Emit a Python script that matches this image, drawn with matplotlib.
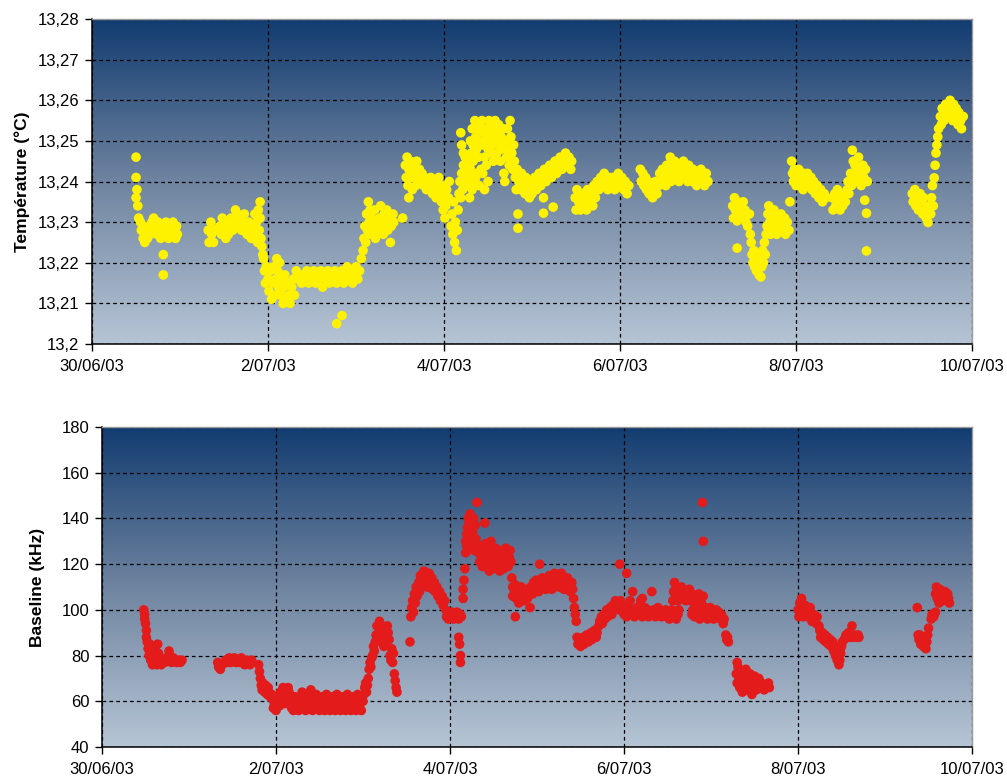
import matplotlib
matplotlib.use("Agg")
import matplotlib.pyplot as plt
import numpy as np
from matplotlib.colors import LinearSegmentedColormap
from matplotlib.ticker import FuncFormatter

plt.rcParams['font.family'] = ['Liberation Sans', 'DejaVu Sans']

# x = days since 30/06/03 00:00
date_ticks = [0, 2, 4, 6, 8, 10]
date_labels = ['30/06/03', '2/07/03', '4/07/03', '6/07/03', '8/07/03', '10/07/03']

# --- temperature (°C), one list per group of points
temp_a = [(0.50, 13.246), (0.50, 13.241), (0.51, 13.238), (0.50, 13.236), (0.52, 13.234), (0.53, 13.231),
          (0.55, 13.230), (0.56, 13.228), (0.58, 13.229), (0.58, 13.226), (0.60, 13.227), (0.60, 13.225),
          (0.62, 13.228), (0.63, 13.226), (0.65, 13.229), (0.66, 13.227), (0.68, 13.230), (0.70, 13.228),
          (0.70, 13.231), (0.72, 13.229), (0.74, 13.227), (0.75, 13.230), (0.77, 13.228), (0.78, 13.226),
          (0.80, 13.229), (0.81, 13.222), (0.81, 13.217), (0.82, 13.227), (0.84, 13.230), (0.85, 13.228),
          (0.87, 13.226), (0.88, 13.229), (0.90, 13.227), (0.92, 13.230), (0.93, 13.228), (0.95, 13.226),
          (0.96, 13.229), (0.97, 13.227)]
temp_b = [(1.32, 13.228), (1.33, 13.225), (1.35, 13.230), (1.36, 13.227), (1.38, 13.225), (1.40, 13.228),
          (1.45, 13.229), (1.47, 13.227), (1.48, 13.231), (1.50, 13.228), (1.52, 13.226), (1.54, 13.230),
          (1.55, 13.227), (1.57, 13.229), (1.58, 13.231), (1.60, 13.228), (1.62, 13.230), (1.63, 13.233),
          (1.65, 13.232), (1.66, 13.229), (1.68, 13.231), (1.70, 13.228), (1.71, 13.230), (1.73, 13.232),
          (1.75, 13.229), (1.76, 13.227), (1.78, 13.230), (1.80, 13.228), (1.81, 13.226), (1.83, 13.229),
          (1.85, 13.232), (1.86, 13.227), (1.87, 13.230), (1.88, 13.225), (1.89, 13.233), (1.90, 13.228),
          (1.91, 13.235), (1.91, 13.231), (1.92, 13.226), (1.93, 13.224), (1.94, 13.222)]
temp_c = [(1.95, 13.221), (1.96, 13.218), (1.97, 13.215), (1.98, 13.219), (2.00, 13.216), (2.01, 13.213),
          (2.02, 13.218), (2.04, 13.211), (2.05, 13.215), (2.06, 13.219), (2.08, 13.212), (2.09, 13.216),
          (2.10, 13.221), (2.11, 13.218), (2.12, 13.214), (2.13, 13.220), (2.14, 13.216), (2.15, 13.212),
          (2.17, 13.210), (2.18, 13.214), (2.19, 13.217), (2.21, 13.211), (2.22, 13.215), (2.24, 13.212),
          (2.25, 13.210), (2.27, 13.214), (2.29, 13.216), (2.30, 13.212), (2.32, 13.218), (2.34, 13.216),
          (2.36, 13.217), (2.38, 13.215), (2.40, 13.217), (2.42, 13.216), (2.44, 13.218), (2.46, 13.215),
          (2.48, 13.217), (2.50, 13.216), (2.52, 13.218), (2.54, 13.215), (2.56, 13.217), (2.58, 13.216),
          (2.60, 13.218), (2.62, 13.214), (2.64, 13.217), (2.66, 13.216), (2.68, 13.218), (2.70, 13.215),
          (2.72, 13.217), (2.74, 13.216), (2.76, 13.218), (2.78, 13.205), (2.84, 13.207), (2.78, 13.215),
          (2.80, 13.217), (2.82, 13.216), (2.84, 13.218), (2.86, 13.215), (2.88, 13.217), (2.90, 13.219),
          (2.92, 13.216), (2.94, 13.218), (2.96, 13.215), (2.98, 13.217), (3.00, 13.219), (3.02, 13.216),
          (3.04, 13.218)]
temp_d = [(3.06, 13.221), (3.08, 13.223), (3.09, 13.226), (3.10, 13.229), (3.11, 13.225), (3.12, 13.232),
          (3.13, 13.228), (3.14, 13.235), (3.15, 13.230), (3.16, 13.233), (3.17, 13.227), (3.18, 13.231),
          (3.20, 13.229), (3.21, 13.233), (3.22, 13.226), (3.24, 13.230), (3.25, 13.228), (3.27, 13.231),
          (3.28, 13.234), (3.29, 13.229), (3.31, 13.227), (3.32, 13.232), (3.34, 13.230), (3.35, 13.233),
          (3.36, 13.228), (3.38, 13.231), (3.39, 13.225), (3.40, 13.229), (3.42, 13.232), (3.43, 13.230),
          (3.53, 13.231)]
temp_e = [(3.56, 13.244), (3.57, 13.241), (3.58, 13.246), (3.59, 13.239), (3.60, 13.236), (3.60, 13.243),
          (3.62, 13.245), (3.63, 13.241), (3.64, 13.238), (3.65, 13.244), (3.67, 13.242), (3.68, 13.239),
          (3.69, 13.245), (3.71, 13.241), (3.72, 13.243), (3.74, 13.240), (3.75, 13.242), (3.77, 13.239),
          (3.78, 13.241), (3.80, 13.238), (3.82, 13.240), (3.84, 13.238), (3.85, 13.241), (3.87, 13.237),
          (3.88, 13.240), (3.90, 13.238), (3.91, 13.236), (3.93, 13.239), (3.94, 13.241), (3.96, 13.237),
          (3.97, 13.235), (3.98, 13.239)]
temp_f = [(3.99, 13.233), (4.00, 13.236), (4.01, 13.231), (4.02, 13.234), (4.03, 13.238), (4.05, 13.236),
          (4.06, 13.240), (4.08, 13.229), (4.09, 13.232), (4.10, 13.227), (4.11, 13.235), (4.12, 13.225),
          (4.13, 13.230), (4.14, 13.223), (4.15, 13.228), (4.16, 13.233), (4.17, 13.237), (4.18, 13.240),
          (4.19, 13.236), (4.20, 13.242), (4.21, 13.238), (4.22, 13.244), (4.23, 13.240), (4.24, 13.246),
          (4.25, 13.242), (4.26, 13.239), (4.27, 13.244), (4.28, 13.241), (4.29, 13.236), (4.30, 13.243),
          (4.31, 13.240), (4.32, 13.238), (4.33, 13.245), (4.34, 13.242), (4.35, 13.240), (4.19, 13.252),
          (4.20, 13.249), (4.22, 13.247)]
temp_g = [(4.30, 13.250), (4.31, 13.247), (4.32, 13.253), (4.33, 13.249), (4.35, 13.255), (4.36, 13.251),
          (4.37, 13.248), (4.38, 13.253), (4.39, 13.246), (4.40, 13.250), (4.41, 13.254), (4.42, 13.243),
          (4.43, 13.255), (4.44, 13.249), (4.45, 13.252), (4.46, 13.246), (4.47, 13.250), (4.48, 13.244),
          (4.49, 13.253), (4.50, 13.248), (4.51, 13.255), (4.52, 13.251), (4.53, 13.247), (4.54, 13.253),
          (4.55, 13.249), (4.56, 13.245), (4.57, 13.252), (4.58, 13.255), (4.59, 13.250), (4.60, 13.247),
          (4.61, 13.252), (4.62, 13.254), (4.63, 13.249), (4.64, 13.245), (4.65, 13.251), (4.66, 13.248),
          (4.67, 13.253), (4.68, 13.242), (4.69, 13.240), (4.70, 13.250), (4.71, 13.246), (4.72, 13.253),
          (4.73, 13.248), (4.74, 13.244), (4.75, 13.255), (4.76, 13.251), (4.77, 13.247), (4.78, 13.243),
          (4.79, 13.249), (4.80, 13.245), (4.36, 13.241), (4.40, 13.239), (4.44, 13.242), (4.46, 13.238),
          (4.50, 13.240)]
temp_h = [(4.81, 13.241), (4.82, 13.238), (4.83, 13.243), (4.84, 13.232), (4.84, 13.2285), (4.85, 13.240),
          (4.87, 13.238), (4.88, 13.242), (4.90, 13.239), (4.92, 13.237), (4.93, 13.241), (4.95, 13.238),
          (4.97, 13.236), (4.98, 13.240), (5.00, 13.237), (5.02, 13.239), (5.03, 13.241), (5.05, 13.238),
          (5.07, 13.240), (5.08, 13.242), (5.10, 13.239), (5.12, 13.241), (5.13, 13.2322), (5.13, 13.236),
          (5.14, 13.243), (5.16, 13.240), (5.18, 13.242), (5.20, 13.244), (5.22, 13.241), (5.24, 13.2337),
          (5.24, 13.243), (5.26, 13.245), (5.28, 13.242), (5.30, 13.244), (5.32, 13.246), (5.34, 13.243),
          (5.36, 13.245), (5.38, 13.247), (5.40, 13.244), (5.42, 13.246), (5.44, 13.243), (5.45, 13.245)]
temp_i = [(5.49, 13.236), (5.50, 13.233), (5.51, 13.238), (5.53, 13.235), (5.55, 13.233), (5.56, 13.237),
          (5.58, 13.234), (5.60, 13.236), (5.62, 13.233), (5.63, 13.238), (5.65, 13.235), (5.67, 13.237),
          (5.69, 13.234), (5.70, 13.239), (5.72, 13.236), (5.74, 13.240), (5.76, 13.238), (5.78, 13.241),
          (5.80, 13.239), (5.82, 13.242), (5.84, 13.240), (5.86, 13.238), (5.88, 13.241), (5.90, 13.239),
          (5.92, 13.241), (5.94, 13.238), (5.96, 13.240), (5.98, 13.242), (6.00, 13.239), (6.02, 13.241),
          (6.04, 13.238), (6.06, 13.240), (6.08, 13.237), (6.10, 13.239)]
temp_j = [(6.23, 13.243), (6.24, 13.240), (6.26, 13.242), (6.27, 13.239), (6.29, 13.241), (6.30, 13.238),
          (6.32, 13.240), (6.33, 13.237), (6.35, 13.239), (6.37, 13.236), (6.38, 13.238), (6.40, 13.240),
          (6.42, 13.237), (6.44, 13.239), (6.45, 13.242), (6.47, 13.240), (6.48, 13.243), (6.50, 13.241),
          (6.52, 13.239), (6.53, 13.244), (6.55, 13.242), (6.57, 13.246), (6.58, 13.240), (6.60, 13.243),
          (6.62, 13.245), (6.63, 13.241), (6.65, 13.243), (6.67, 13.240), (6.68, 13.244), (6.70, 13.242),
          (6.72, 13.245), (6.73, 13.241), (6.75, 13.243), (6.77, 13.240), (6.78, 13.244), (6.80, 13.242),
          (6.82, 13.240), (6.83, 13.243), (6.85, 13.241), (6.87, 13.239), (6.88, 13.242), (6.90, 13.240),
          (6.92, 13.243), (6.94, 13.241), (6.96, 13.239), (6.98, 13.242), (7.00, 13.240)]
temp_k = [(7.28, 13.234), (7.29, 13.231), (7.30, 13.236), (7.31, 13.233), (7.33, 13.2303), (7.33, 13.2236),
          (7.34, 13.235), (7.36, 13.232), (7.37, 13.234), (7.39, 13.231), (7.40, 13.235), (7.42, 13.233),
          (7.43, 13.230), (7.45, 13.229), (7.47, 13.232), (7.48, 13.227), (7.49, 13.225), (7.50, 13.222),
          (7.51, 13.220), (7.52, 13.223), (7.53, 13.219), (7.54, 13.221), (7.55, 13.218), (7.56, 13.222),
          (7.57, 13.220), (7.58, 13.217), (7.59, 13.221), (7.60, 13.2165), (7.61, 13.219), (7.62, 13.223),
          (7.63, 13.220), (7.64, 13.225), (7.65, 13.222), (7.66, 13.227), (7.67, 13.229), (7.68, 13.232)]
temp_l = [(7.69, 13.234), (7.70, 13.230), (7.71, 13.227), (7.72, 13.232), (7.74, 13.229), (7.75, 13.233),
          (7.77, 13.231), (7.78, 13.227), (7.80, 13.230), (7.82, 13.228), (7.83, 13.232), (7.85, 13.229),
          (7.87, 13.231), (7.88, 13.227), (7.90, 13.230), (7.92, 13.228), (7.93, 13.235)]
temp_m = [(7.95, 13.245), (7.96, 13.242), (7.97, 13.240), (7.98, 13.243), (8.00, 13.239), (8.01, 13.241),
          (8.03, 13.243), (8.04, 13.239), (8.06, 13.241), (8.08, 13.238), (8.09, 13.242), (8.11, 13.240),
          (8.13, 13.242), (8.15, 13.239), (8.17, 13.241), (8.18, 13.238), (8.20, 13.240), (8.22, 13.237),
          (8.24, 13.239), (8.26, 13.236), (8.28, 13.238), (8.30, 13.235), (8.32, 13.237), (8.34, 13.236)]
temp_n = [(8.41, 13.236), (8.42, 13.233), (8.44, 13.237), (8.45, 13.234), (8.47, 13.238), (8.48, 13.235),
          (8.50, 13.233), (8.51, 13.236), (8.53, 13.234), (8.55, 13.237), (8.56, 13.235), (8.58, 13.238),
          (8.59, 13.240), (8.60, 13.237), (8.62, 13.242), (8.63, 13.239), (8.64, 13.2477), (8.65, 13.245),
          (8.66, 13.241), (8.67, 13.244), (8.69, 13.240), (8.70, 13.243), (8.71, 13.246), (8.73, 13.242),
          (8.74, 13.239), (8.76, 13.244), (8.77, 13.241), (8.78, 13.2354), (8.79, 13.243), (8.80, 13.2322),
          (8.80, 13.2229), (8.81, 13.240)]
temp_o = [(9.32, 13.237), (9.33, 13.235), (9.35, 13.238), (9.36, 13.234), (9.38, 13.236), (9.39, 13.233),
          (9.41, 13.237), (9.42, 13.235), (9.44, 13.232), (9.45, 13.236), (9.47, 13.233), (9.48, 13.231),
          (9.50, 13.2299), (9.51, 13.234), (9.53, 13.232), (9.54, 13.236), (9.55, 13.239), (9.56, 13.234),
          (9.57, 13.2409), (9.58, 13.244), (9.59, 13.247), (9.60, 13.249), (9.61, 13.251)]
temp_p = [(9.62, 13.253), (9.64, 13.256), (9.65, 13.254), (9.66, 13.258), (9.68, 13.255), (9.69, 13.257),
          (9.70, 13.259), (9.72, 13.256), (9.73, 13.258), (9.75, 13.260), (9.76, 13.257), (9.78, 13.255),
          (9.79, 13.259), (9.81, 13.256), (9.82, 13.258), (9.84, 13.254), (9.85, 13.257), (9.87, 13.255),
          (9.88, 13.253), (9.90, 13.256)]

# --- baseline (kHz)
base_a = [(0.48, 100), (0.49, 98), (0.49, 96), (0.50, 94), (0.51, 91), (0.51, 88), (0.52, 86), (0.53, 83),
          (0.54, 80), (0.55, 85), (0.56, 78), (0.57, 82), (0.58, 76), (0.59, 80), (0.60, 77), (0.61, 84),
          (0.62, 79), (0.63, 76), (0.64, 85), (0.65, 81), (0.66, 77), (0.67, 79), (0.68, 76), (0.70, 78),
          (0.72, 77), (0.74, 79), (0.76, 78), (0.77, 82), (0.78, 80), (0.80, 77), (0.82, 79), (0.84, 78),
          (0.86, 77), (0.88, 78), (0.90, 77), (0.92, 78)]
base_b = [(1.33, 77), (1.34, 75), (1.36, 74), (1.38, 76), (1.42, 78), (1.44, 77), (1.46, 79), (1.48, 77),
          (1.50, 78), (1.52, 79), (1.54, 77), (1.56, 78), (1.58, 77), (1.60, 79), (1.62, 77), (1.64, 76),
          (1.66, 78), (1.68, 77), (1.70, 76), (1.72, 78), (1.80, 76), (1.81, 73), (1.82, 70), (1.83, 67),
          (1.84, 65), (1.85, 68), (1.86, 66), (1.87, 64), (1.88, 67), (1.89, 65), (1.90, 63), (1.91, 66),
          (1.92, 64), (1.93, 62), (1.95, 63), (1.96, 61)]
base_c = [(1.97, 57), (1.98, 59), (2.00, 56), (2.01, 60), (2.03, 62), (2.04, 58), (2.05, 64), (2.06, 61),
          (2.08, 66), (2.09, 63), (2.10, 59), (2.11, 65), (2.12, 62), (2.14, 66), (2.15, 64), (2.16, 60),
          (2.18, 57), (2.20, 56), (2.21, 59), (2.22, 62), (2.24, 57), (2.25, 60), (2.26, 56), (2.28, 58),
          (2.29, 61), (2.30, 64), (2.32, 57), (2.33, 60), (2.34, 56), (2.36, 59), (2.37, 62), (2.38, 57),
          (2.40, 65), (2.41, 60), (2.42, 56), (2.44, 58), (2.45, 61), (2.46, 63), (2.48, 57), (2.49, 59),
          (2.50, 56), (2.52, 60), (2.53, 62), (2.54, 58), (2.56, 56), (2.57, 61), (2.58, 63), (2.60, 57),
          (2.61, 59), (2.62, 56), (2.64, 60), (2.65, 62), (2.66, 58), (2.68, 56), (2.69, 61), (2.70, 63),
          (2.72, 57), (2.73, 59), (2.74, 56), (2.76, 60), (2.77, 62), (2.78, 58), (2.80, 56), (2.81, 61),
          (2.82, 63), (2.84, 57), (2.85, 59), (2.86, 56), (2.88, 60), (2.89, 62), (2.90, 58), (2.92, 56),
          (2.93, 61), (2.94, 63), (2.96, 57), (2.97, 59), (2.98, 56), (3.00, 60)]
base_d = [(3.01, 63), (3.02, 66), (3.03, 68), (3.04, 64), (3.05, 67), (3.06, 70), (3.07, 74), (3.08, 77),
          (3.09, 75), (3.10, 79), (3.11, 80), (3.12, 84), (3.13, 82), (3.14, 86), (3.15, 89), (3.16, 93),
          (3.17, 87), (3.18, 90), (3.19, 95), (3.20, 88), (3.21, 86), (3.22, 91), (3.23, 89), (3.24, 84),
          (3.25, 92), (3.26, 88), (3.27, 86), (3.28, 93), (3.29, 90), (3.30, 87), (3.31, 80), (3.32, 78),
          (3.33, 83), (3.34, 77), (3.35, 81), (3.36, 72), (3.37, 69), (3.38, 66), (3.39, 64), (3.54, 86)]
base_e = [(3.55, 97), (3.56, 101), (3.57, 104), (3.58, 99), (3.59, 107), (3.60, 103), (3.61, 110), (3.62, 106),
          (3.64, 112), (3.65, 108), (3.66, 115), (3.68, 111), (3.69, 114), (3.70, 117), (3.71, 112), (3.72, 115),
          (3.74, 110), (3.75, 113), (3.76, 116), (3.78, 111), (3.79, 114), (3.80, 109), (3.82, 112), (3.83, 108),
          (3.85, 110), (3.86, 106), (3.88, 108), (3.89, 104), (3.91, 106), (3.92, 102), (3.94, 104), (3.95, 100),
          (3.96, 97), (3.98, 96), (3.99, 98), (4.01, 97), (4.02, 99), (4.04, 96), (4.05, 98), (4.07, 97),
          (4.08, 99), (4.10, 96), (4.12, 98), (4.13, 97), (4.10, 88), (4.11, 85), (4.12, 80), (4.12, 77)]
base_f = [(4.15, 105), (4.15, 109), (4.16, 113), (4.17, 118), (4.18, 125), (4.18, 130), (4.19, 133), (4.19, 128),
          (4.20, 136), (4.21, 140), (4.21, 133), (4.22, 138), (4.23, 131), (4.23, 142), (4.24, 137), (4.25, 129),
          (4.26, 134), (4.27, 140), (4.28, 126), (4.29, 137), (4.30, 131), (4.31, 147), (4.32, 128)]
base_g = [(4.33, 125), (4.34, 121), (4.35, 128), (4.36, 123), (4.37, 119), (4.38, 126), (4.39, 122), (4.40, 138),
          (4.41, 129), (4.42, 124), (4.43, 120), (4.44, 127), (4.45, 117), (4.46, 123), (4.47, 130), (4.48, 121),
          (4.49, 118), (4.50, 125), (4.51, 122), (4.52, 127), (4.53, 119), (4.54, 124), (4.55, 121), (4.56, 126),
          (4.57, 117), (4.58, 123), (4.59, 120), (4.60, 126), (4.61, 122), (4.62, 118), (4.63, 124), (4.64, 127),
          (4.65, 121), (4.66, 125), (4.67, 119), (4.68, 123), (4.69, 126), (4.70, 121), (4.71, 114), (4.72, 110),
          (4.72, 106), (4.75, 97)]
base_h = [(4.74, 108), (4.75, 111), (4.76, 105), (4.77, 109), (4.78, 106), (4.79, 103), (4.80, 107), (4.82, 110),
          (4.83, 105), (4.84, 108), (4.85, 104), (4.86, 106), (4.88, 109), (4.89, 105), (4.90, 108), (4.92, 101),
          (4.93, 110), (4.95, 107), (4.96, 112), (4.98, 109), (4.99, 113), (5.00, 110), (5.02, 108), (5.03, 112),
          (5.03, 120), (5.05, 110), (5.06, 114), (5.08, 111), (5.10, 109), (5.11, 113), (5.13, 110), (5.14, 115),
          (5.16, 112), (5.17, 109), (5.19, 113), (5.20, 116), (5.22, 111), (5.23, 114), (5.25, 110), (5.26, 113),
          (5.28, 116), (5.29, 112), (5.31, 109), (5.32, 113), (5.34, 110), (5.35, 114), (5.37, 111), (5.38, 108),
          (5.40, 112), (5.41, 109), (5.42, 105), (5.43, 101), (5.44, 98), (5.45, 95)]
base_i = [(5.46, 88), (5.47, 85), (5.48, 87), (5.50, 84), (5.51, 86), (5.53, 88), (5.54, 85), (5.56, 87),
          (5.57, 89), (5.59, 86), (5.60, 88), (5.62, 90), (5.63, 87), (5.65, 89), (5.66, 91), (5.68, 88),
          (5.69, 90), (5.71, 93), (5.72, 95), (5.74, 97), (5.75, 94), (5.77, 98), (5.78, 96), (5.80, 100),
          (5.81, 97), (5.83, 99), (5.84, 101), (5.86, 98), (5.87, 102), (5.89, 100), (5.90, 104), (5.92, 101),
          (5.93, 103), (5.95, 100), (5.96, 104), (5.98, 102), (5.95, 120), (6.03, 116)]
base_j = [(6.00, 98), (6.01, 100), (6.03, 97), (6.04, 101), (6.06, 99), (6.07, 104), (6.09, 98), (6.10, 108),
          (6.10, 100), (6.12, 97), (6.13, 99), (6.15, 101), (6.16, 98), (6.18, 100), (6.19, 104), (6.21, 105),
          (6.21, 97), (6.22, 99), (6.24, 101), (6.25, 98), (6.27, 100), (6.28, 97), (6.30, 99), (6.32, 108),
          (6.33, 98), (6.34, 100), (6.36, 97), (6.37, 99), (6.39, 101), (6.40, 98), (6.42, 100), (6.43, 97),
          (6.45, 99), (6.46, 98), (6.48, 100), (6.49, 97), (6.51, 99), (6.52, 96), (6.54, 98), (6.55, 100),
          (6.57, 97), (6.58, 99), (6.60, 96), (6.62, 98), (6.63, 100)]
base_k = [(6.56, 104), (6.57, 108), (6.58, 112), (6.59, 106), (6.60, 110), (6.62, 104), (6.63, 108), (6.65, 106),
          (6.66, 110), (6.68, 105), (6.69, 108), (6.71, 104), (6.72, 107), (6.74, 105), (6.75, 109), (6.77, 104),
          (6.78, 107), (6.80, 105), (6.81, 103), (6.83, 106), (6.84, 104), (6.86, 107), (6.88, 105), (6.89, 103),
          (6.91, 106), (6.90, 147), (6.91, 130)]
base_l = [(6.78, 98), (6.79, 100), (6.81, 97), (6.82, 99), (6.84, 101), (6.85, 98), (6.87, 96), (6.88, 100),
          (6.90, 97), (6.91, 99), (6.93, 101), (6.94, 98), (6.96, 96), (6.97, 99), (6.99, 101), (7.00, 97),
          (7.02, 99), (7.03, 96), (7.05, 98), (7.06, 100), (7.08, 97), (7.09, 99), (7.11, 96), (7.12, 98),
          (7.14, 94), (7.15, 96), (7.17, 89), (7.18, 87), (7.19, 88), (7.20, 86)]
base_m = [(7.29, 72), (7.30, 68), (7.30, 77), (7.31, 75), (7.32, 70), (7.33, 66), (7.34, 73), (7.35, 69),
          (7.36, 64), (7.38, 71), (7.39, 67), (7.40, 74), (7.41, 65), (7.42, 70), (7.44, 68), (7.45, 72),
          (7.46, 66), (7.47, 63), (7.48, 69), (7.50, 71), (7.51, 67), (7.52, 65), (7.54, 68), (7.55, 70),
          (7.57, 66), (7.58, 68), (7.60, 67), (7.61, 65), (7.63, 67), (7.64, 66), (7.66, 68), (7.67, 66)]
base_n = [(8.00, 100), (8.01, 97), (8.02, 103), (8.03, 98), (8.04, 105), (8.05, 101), (8.06, 97), (8.07, 99),
          (8.08, 102), (8.09, 98), (8.10, 100), (8.11, 97), (8.12, 99), (8.14, 101), (8.15, 97), (8.16, 95),
          (8.18, 98), (8.19, 96), (8.21, 94), (8.22, 97), (8.24, 93), (8.25, 91), (8.26, 88), (8.28, 90),
          (8.29, 87), (8.31, 89), (8.32, 86), (8.34, 88), (8.35, 85), (8.37, 87), (8.38, 84), (8.40, 86),
          (8.41, 82), (8.42, 84), (8.43, 80), (8.44, 82), (8.45, 78), (8.46, 80), (8.47, 76), (8.48, 78),
          (8.49, 81), (8.50, 84), (8.51, 86)]
base_o = [(8.53, 87), (8.55, 89), (8.56, 88), (8.58, 90), (8.59, 88), (8.61, 89), (8.62, 93), (8.63, 88),
          (8.65, 89), (8.67, 88), (8.69, 89), (8.70, 88)]
base_p = [(9.37, 101), (9.38, 89), (9.39, 87), (9.40, 89), (9.41, 85), (9.42, 88), (9.43, 86), (9.44, 84),
          (9.45, 87), (9.46, 85), (9.47, 83), (9.48, 86), (9.49, 89), (9.50, 92), (9.53, 96), (9.54, 98),
          (9.56, 97), (9.58, 99)]
base_q = [(9.58, 107), (9.59, 110), (9.60, 105), (9.61, 108), (9.62, 103), (9.63, 109), (9.64, 106), (9.65, 108),
          (9.66, 104), (9.67, 107), (9.68, 105), (9.69, 108), (9.70, 106), (9.71, 104), (9.72, 107), (9.73, 105),
          (9.74, 103)]

temp_groups = [temp_a, temp_b, temp_c, temp_d, temp_e, temp_f, temp_g, temp_h, temp_i,
               temp_j, temp_k, temp_l, temp_m, temp_n, temp_o, temp_p]
base_groups = [base_a, base_b, base_c, base_d, base_e, base_f, base_g, base_h, base_i,
               base_j, base_k, base_l, base_m, base_n, base_o, base_p, base_q]

temp = np.array([p for g in temp_groups for p in g])
base = np.array([p for g in base_groups for p in g])

# dark navy at the top of each panel, grey-blue at the bottom
grad_cmap = LinearSegmentedColormap.from_list('bg', ['#123c70', '#6f84a0', '#b6c5d5'])


def style_panel(ax, ylo, yhi, step, ylabel, fmt):
    grad = np.linspace(0, 1, 256).reshape(-1, 1)
    ax.imshow(grad, extent=[0, 10, ylo, yhi], aspect='auto', cmap=grad_cmap,
              origin='upper', zorder=0)
    ax.set_xlim(0, 10)
    ax.set_ylim(ylo, yhi)
    ax.set_xticks(date_ticks)
    ax.set_xticklabels(date_labels)
    ax.set_yticks(np.arange(ylo, yhi + step / 2, step))
    ax.yaxis.set_major_formatter(FuncFormatter(fmt))
    ax.grid(True, color='black', linestyle=(0, (3, 2.5)), linewidth=0.9)
    ax.tick_params(direction='out', length=5, width=1, labelsize=12, colors='black')
    ax.tick_params(axis='x', pad=6)
    ax.tick_params(axis='y', pad=4)
    for s in ['left', 'bottom']:
        ax.spines[s].set_color('black')
        ax.spines[s].set_linewidth(1.1)
    for s in ['top', 'right']:
        ax.spines[s].set_color('#9a9a9a')
        ax.spines[s].set_linewidth(1.0)
    ax.set_ylabel(ylabel, fontsize=12.5, fontweight='bold')


fig = plt.figure(figsize=(10.07, 7.77), dpi=100)

ax1 = fig.add_axes([0.0914, 0.5573, 0.8739, 0.4182])
style_panel(ax1, 13.20, 13.28, 0.01, 'Température (°C)',
            lambda v, p: f"{round(v, 2):g}".replace('.', ','))
ax1.scatter(temp[:, 0], temp[:, 1], s=48, color='#fff200', edgecolors='none', zorder=3)
ax1.yaxis.set_label_coords(-0.071, 0.5)

ax2 = fig.add_axes([0.1013, 0.0386, 0.8640, 0.4118])
style_panel(ax2, 40, 180, 20, 'Baseline (kHz)', lambda v, p: f"{v:g}")
ax2.scatter(base[:, 0], base[:, 1], s=48, color='#e31b1b', edgecolors='none', zorder=3)
ax2.yaxis.set_label_coords(-0.066, 0.5)

fig.savefig('out.png', dpi=100)
